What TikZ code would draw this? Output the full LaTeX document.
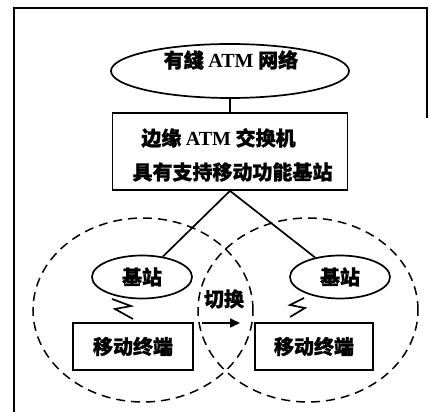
\documentclass[tikz,border=0pt]{standalone}
\usepackage{fontspec}
\setmainfont{Liberation Serif}
\newfontfamily\cjk{Noto Sans CJK SC}[BoldFeatures={FakeBold=1.2}]
\usetikzlibrary{shapes.geometric,arrows.meta}
\begin{document}
\begin{tikzpicture}[x=1pt,y=-1pt,
  solidln/.style={line width=1.7pt},
  ell/.style={ellipse, draw, line width=1.7pt, inner sep=0pt},
  boxs/.style={rectangle, draw, line width=1.7pt, inner sep=0pt},
  cell/.style={ellipse, draw, line width=1.5pt, dash pattern=on 9pt off 6pt, inner sep=0pt},
  txt/.style={font=\cjk\bfseries\fontsize{20}{20}\selectfont, inner sep=0pt}
]
\useasboundingbox (0,0) rectangle (429,412);
% frame
\draw[line width=1.7pt] (14,412) -- (14,8) -- (427,8) -- (427,118);
% dashed cells
\node[cell, minimum width=220pt, minimum height=184pt] (c1) at (143,310) {};
\node[cell, minimum width=220pt, minimum height=184pt] (c2) at (308,310) {};
% top network
\node[ell, minimum width=238pt, minimum height=54pt] (net) at (230,71) {};
\node[txt] (nettxt) at (231,60) {有綫 {\rmfamily\bfseries ATM} 网络};
% switch box
\node[boxs, minimum width=235pt, minimum height=77pt] (sw) at (230,151.5) {};
\node[txt] (sw1) at (218.5,138) {边缘 {\rmfamily\bfseries ATM} 交换机};
\node[txt] (sw2) at (232.5,172) {具有支持移动功能基站};
% base stations
\node[ell, txt, minimum width=100pt, minimum height=43pt] (bs1) at (142,277) {基站};
\node[ell, txt, minimum width=100pt, minimum height=43pt] (bs2) at (340,277) {基站};
% mobile terminals
\node[boxs, txt, minimum width=120pt, minimum height=47pt] (mt1) at (133,346.5) {移动终端};
\node[boxs, txt, minimum width=118pt, minimum height=47pt] (mt2) at (314,346.5) {移动终端};
% handover
\node[txt] (ho) at (224,299) {切换};
\coordinate (hA) at (202,323);
\coordinate (hB) at (240,323);
\draw[solidln, -{Triangle[length=10pt,width=9pt]}] (hA) -- (hB);
% connectors
\draw[solidln] (net.south) -- (sw.north);
\draw[solidln] (sw.south) -- (bs1);
\draw[solidln] (sw.south) -- (bs2);
% radio links
\draw[solidln] (112,299) -- (131,306) -- (115,309) -- (133,319);
\draw[solidln] (304,298) -- (290,305) -- (305,308) -- (290,317);
\end{tikzpicture}
\end{document}
